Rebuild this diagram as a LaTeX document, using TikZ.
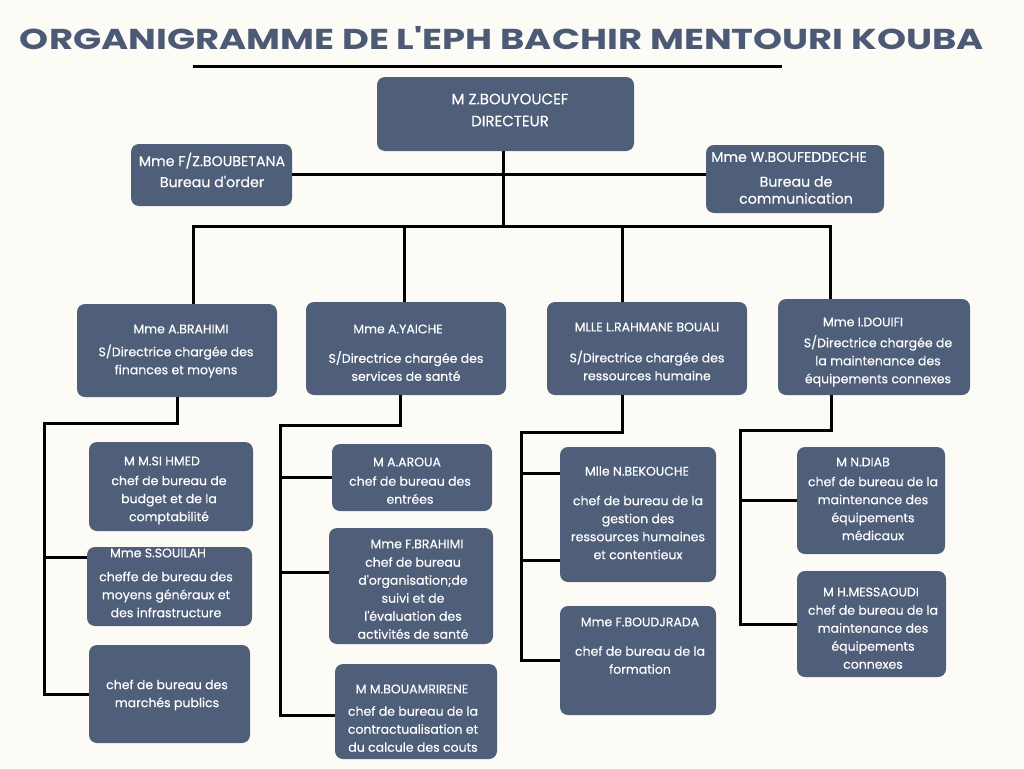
\documentclass[tikz,border=0pt]{standalone}
\usepackage{fontspec}
\setmainfont{Poppins}[Ligatures=TeXOff]
\newfontfamily\boxfont{Poppins}[FakeBold=0.35, Ligatures=TeXOff]
\usepackage{graphicx}
\definecolor{bgc}{RGB}{253,251,245}
\definecolor{boxc}{RGB}{79,94,121}
\definecolor{titlec}{RGB}{76,90,118}
\newcommand\orgbox[5]{\node[box, minimum width={(#4-#2)*1pt}, minimum height={(#5-#3)*1pt}] (#1) at ({(#2+#4)/2},{(#3+#5)/2}) {};}
\newcommand\orgtxt[4]{\node[txt] (#1) at (#2,#3) {#4};}
\newcommand\orgtop[4]{\node[toptxt] (#1) at (#2,#3) {#4};}
\begin{document}
\begin{tikzpicture}[x=1pt,y=-1pt,
  box/.style={fill=boxc, rounded corners=8pt, inner sep=0pt, draw=none},
  txt/.style={text=white, align=center, inner sep=0pt, font=\boxfont\fontsize{12.5}{18}\selectfont},
  toptxt/.style={txt, font=\boxfont\fontsize{14.2}{21}\selectfont},
  conn/.style={line width=3pt, draw=black}]
\useasboundingbox (0,0) rectangle (1024,768);
\fill[bgc] (0,0) rectangle (1024,768);

% title
\node[inner sep=0pt, text=titlec] (title) at (502,38.5) {\resizebox{964pt}{23pt}{\bfseries ORGANIGRAMME DE L'EPH BACHIR MENTOURI KOUBA}};
\coordinate (ul1) at (193,66);
\coordinate (ul2) at (782,66);
\draw[line width=3pt] (ul1) -- (ul2);

% boxes
\orgbox{dir}{377}{77}{634}{151}
\orgbox{ord}{131}{144}{292}{206}
\orgbox{com}{706}{145}{884}{213}
\orgbox{b1}{77}{304}{277}{397}
\orgbox{b2}{306}{302}{506}{395}
\orgbox{b3}{547}{302}{747}{395}
\orgbox{b4}{778}{299}{970}{395}
\orgbox{m1}{89}{442}{253}{531}
\orgbox{m2}{87}{547}{252}{626}
\orgbox{m3}{89}{645}{250}{743}
\orgbox{n1}{332}{444}{492}{511}
\orgbox{n2}{329}{528}{493}{644}
\orgbox{n3}{335}{664}{497}{759}
\orgbox{p1}{560}{447}{716}{582}
\orgbox{p2}{560}{606}{716}{715}
\orgbox{q1}{797}{447}{945}{554}
\orgbox{q2}{797}{571}{946}{677}

% texts
\node[txt, font=\boxfont\fontsize{15}{22}\selectfont] (dirt) at (510,110) {M Z.BOUYOUCEF\\DIRECTEUR};
\orgtop{ordt}{212}{170}{Mme F/Z.BOUBETANA\\Bureau d'order}
\orgtop{comn}{789}{157}{Mme W.BOUFEDDECHE}
\node[txt, font=\boxfont\fontsize{14.2}{17}\selectfont] (comt) at (796,190) {Bureau de\\communication};

\orgtxt{b1n}{181}{329}{Mme A.BRAHIMI}
\orgtxt{b1t}{176}{361}{S/Directrice chargée des\\finances et moyens}
\orgtxt{b2n}{398}{329}{Mme A.YAICHE}
\orgtxt{b2t}{406}{366}{S/Directrice chargée des\\services de santé}
\orgtxt{b3n}{647}{327}{MLLE L.RAHMANE BOUALI}
\orgtxt{b3t}{647}{365.5}{S/Directrice chargée des\\ressources humaine}
\orgtxt{b4n}{863}{322}{Mme I.DOUIFI}
\orgtxt{b4t}{878}{361}{S/Directrice chargée de\\la maintenance des\\équipements connexes}

\orgtxt{m1n}{162}{461}{M M.SI HMED}
\orgtxt{m1t}{169}{500}{chef de bureau de\\budget et de la\\comptabilité}
\orgtxt{m2n}{158}{553}{Mme S.SOUILAH}
\orgtxt{m2t}{166}{594.5}{cheffe de bureau des\\moyens généraux et\\des infrastructure}
\orgtxt{m3t}{167}{695}{chef de bureau des\\marchés publics}

\orgtxt{n1n}{407}{462}{M A.AROUA}
\orgtxt{n1t}{410}{490}{chef de bureau des\\entrées}
\orgtxt{n2n}{417}{544}{Mme F.BRAHIMI}
\orgtxt{n2t}{413}{598}{chef de bureau\\d'organisation;de\\suivi et de\\l'évaluation des\\activités de santé}
\orgtxt{n3n}{412}{689}{M M.BOUAMRIRENE}
\orgtxt{n3t}{413}{729}{chef de bureau de la\\contractualisation et\\du calcule des couts}

\orgtxt{p1n}{637}{471}{Mlle N.BEKOUCHE}
\orgtxt{p1t}{638}{527.5}{chef de bureau de la\\gestion des\\ressources humaines\\et contentieux}
\orgtxt{p2n}{640}{622}{Mme F.BOUDJRADA}
\orgtxt{p2t}{640}{660}{chef de bureau de la\\formation}

\orgtxt{q1n}{863}{462}{M N.DIAB}
\orgtxt{q1t}{873}{508.5}{chef de bureau de la\\maintenance des\\équipements\\médicaux}
\orgtxt{q2n}{871}{592}{M H.MESSAOUDI}
\orgtxt{q2t}{873}{637}{chef de bureau de la\\maintenance des\\équipements\\connexes}

% connectors
\coordinate (hl) at (0,174);
\coordinate (dx) at (503,0);
\coordinate (busL) at (193,226);
\coordinate (busR) at (830,226);
\coordinate (d2) at (404,226);
\coordinate (d3) at (622,226);
\draw[conn] (ord.east |- hl) -- (com.west |- hl);
\draw[conn] (dir.south -| dx) -- (busL -| dx);
\draw[conn] (b1.north -| busL) -- (busL) -- (busR) -- (busR |- b4.north);
\draw[conn] (d2) -- (d2 |- b2.north);
\draw[conn] (d3) -- (d3 |- b3.north);

\coordinate (s1) at (44,423);
\coordinate (c1) at (0,557);
\draw[conn] (b1.south) |- (s1) -- (s1 |- m3.west) -- (m3.west);
\draw[conn] (s1 |- c1) -- (m2.west |- c1);

\coordinate (s2) at (280,425);
\coordinate (e2) at (400,0);
\coordinate (c2) at (0,572);
\coordinate (c3) at (0,715);
\draw[conn] (b2.south -| e2) |- (s2) -- (s2 |- c3) -- (n3.west |- c3);
\draw[conn] (s2 |- n1.west) -- (n1.west);
\draw[conn] (s2 |- c2) -- (n2.west |- c2);

\coordinate (s3) at (521,432);
\coordinate (e3) at (622,0);
\coordinate (c4) at (0,473);
\coordinate (c5) at (0,560);
\draw[conn] (b3.south -| e3) |- (s3) -- (s3 |- p2.west) -- (p2.west);
\draw[conn] (s3 |- c4) -- (p1.west |- c4);
\draw[conn] (s3 |- c5) -- (p1.west |- c5);

\coordinate (s4) at (740,430);
\coordinate (e4) at (831,0);
\draw[conn] (b4.south -| e4) |- (s4) -- (s4 |- q2.west) -- (q2.west);
\draw[conn] (s4 |- q1.west) -- (q1.west);
\end{tikzpicture}
\end{document}
